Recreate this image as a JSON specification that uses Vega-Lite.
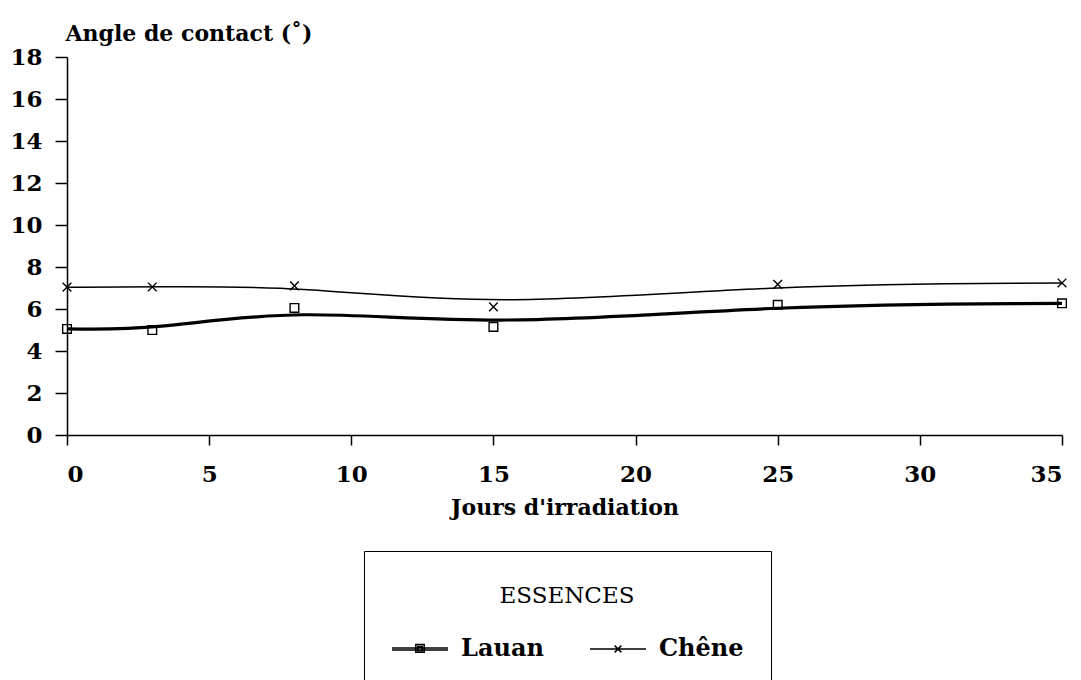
{
  "$schema": "https://vega.github.io/schema/vega-lite/v6.json",
  "width": 995,
  "height": 378,
  "autosize": {"type": "none"},
  "padding": {"left": 67, "top": 57, "right": 19, "bottom": 245},
  "background": "white",
  "config": {
    "view": {"stroke": null},
    "font": "DejaVu Serif",
    "axis": {"grid": false, "domainColor": "black", "tickColor": "black", "labelColor": "black", "titleColor": "black", "domainWidth": 1.5, "tickWidth": 1.5}
  },
  "data": {
    "values": [
      {"jours": 0, "angle": 5.05, "essence": "Lauan"},
      {"jours": 3, "angle": 5.0, "essence": "Lauan"},
      {"jours": 8, "angle": 6.05, "essence": "Lauan"},
      {"jours": 15, "angle": 5.15, "essence": "Lauan"},
      {"jours": 25, "angle": 6.2, "essence": "Lauan"},
      {"jours": 35, "angle": 6.27, "essence": "Lauan"},
      {"jours": 0, "angle": 7.04, "essence": "Chêne"},
      {"jours": 3, "angle": 7.05, "essence": "Chêne"},
      {"jours": 8, "angle": 7.1, "essence": "Chêne"},
      {"jours": 15, "angle": 6.1, "essence": "Chêne"},
      {"jours": 25, "angle": 7.17, "essence": "Chêne"},
      {"jours": 35, "angle": 7.24, "essence": "Chêne"}
    ]
  },
  "encoding": {
    "x": {
      "field": "jours", "type": "quantitative",
      "scale": {"domain": [0, 35], "nice": false, "zero": false},
      "axis": {
        "title": "Jours d'irradiation", "values": [0, 5, 10, 15, 20, 25, 30, 35],
        "tickSize": 10, "labelPadding": 18, "labelFont": "DejaVu Serif", "labelFontWeight": "bold", "labelFontSize": 23,
        "titleFont": "DejaVu Serif", "titleFontWeight": "bold", "titleFontSize": 22, "titlePadding": 11
      }
    },
    "y": {
      "field": "angle", "type": "quantitative",
      "scale": {"domain": [0, 18], "nice": false},
      "axis": {
        "title": "Angle de contact (˚)", "values": [0, 2, 4, 6, 8, 10, 12, 14, 16, 18],
        "tickSize": 12, "labelPadding": 13, "labelFont": "DejaVu Serif", "labelFontWeight": "bold", "labelFontSize": 23,
        "titleFont": "DejaVu Serif", "titleFontWeight": "bold", "titleFontSize": 22,
        "titleAngle": 0, "titleAlign": "left", "titleBaseline": "alphabetic", "titleX": -2, "titleY": -17
      }
    }
  },
  "layer": [
    {
      "transform": [{"filter": "datum.essence === 'Lauan'"}],
      "mark": {"type": "line", "interpolate": "basis", "color": "black", "strokeWidth": 3.2}
    },
    {
      "transform": [{"filter": "datum.essence === 'Chêne'"}],
      "mark": {"type": "line", "interpolate": "basis", "color": "black", "strokeWidth": 1.5}
    },
    {
      "mark": {"type": "point", "filled": false, "color": "black", "strokeWidth": 1.4, "size": 75, "opacity": 1},
      "encoding": {
        "shape": {
          "field": "essence", "type": "nominal",
          "scale": {"domain": ["Lauan", "Chêne"], "range": ["square", "M-1,-1L1,1M-1,1L1,-1"]},
          "legend": null
        }
      }
    },
    {
      "mark": {"type": "point", "filled": false, "color": "black", "strokeWidth": 1.5, "opacity": 0},
      "encoding": {
        "shape": {
          "field": "essence", "type": "nominal",
          "scale": {"domain": ["Lauan", "Chêne"], "range": ["M-1,-0.035H1M-1,0.035H1M-0.15,-0.16H0.15V0.12H-0.15ZM-0.08,-0.09H0.08V0.05H-0.08Z", "M-1,0H1M-0.12,-0.12L0.12,0.12M-0.12,0.12L0.12,-0.12"]},
          "legend": {
            "title": ["", "ESSENCES"], "titleLineHeight": 7, "orient": "none", "legendX": 297, "legendY": 494,
            "direction": "horizontal", "columns": 2, "columnPadding": 43,
            "titleAnchor": "middle", "titleFont": "DejaVu Serif", "titleFontWeight": "normal", "titleFontSize": 23, "titleColor": "black", "titlePadding": 12,
            "labelFont": "DejaVu Serif", "labelFontWeight": "bold", "labelFontSize": 24, "labelColor": "black", "labelOffset": 12, "labelLimit": 300,
            "symbolSize": 3136, "symbolStrokeColor": "black", "symbolStrokeWidth": 1.5, "symbolOpacity": 1,
            "strokeColor": "black", "fillColor": "white", "padding": 27, "cornerRadius": 0,
            "encode": {
              "legend": {"update": {"strokeWidth": {"value": 1.5}}},
              "symbols": {"update": {"stroke": {"value": "black"}, "strokeWidth": {"value": 1.5}, "opacity": {"value": 1}, "strokeOpacity": {"value": 1}}}
            }
          }
        }
      }
    }
  ],
  "resolve": {"scale": {"shape": "independent"}, "legend": {"shape": "independent"}}
}
